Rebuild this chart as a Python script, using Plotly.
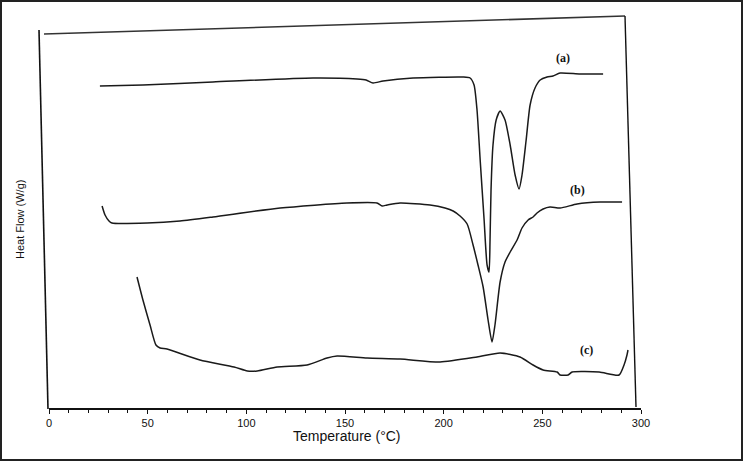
import plotly.graph_objects as go

# Temperature (°C) and relative heat flow (arbitrary units, endo down)
temp_a = [25.8, 47.6, 83.1, 133.8, 156.1, 160.7, 164.2, 169.3, 184.5, 209.8, 213.4, 215.4, 216.9,
          218.5, 220.5, 222.0, 223.0, 223.5, 224.0, 225.0, 226.6, 228.6, 231.1, 233.7, 236.2, 238.2,
          239.7, 241.8, 243.8, 246.3, 248.9, 252.4, 255.4, 259.0, 269.1, 280.8]
flow_a = [32.5, 32.6, 32.9, 33.3, 33.2, 33.1, 32.8, 33.0, 33.3, 33.4, 33.3, 32.6, 30.1,
          25.1, 19.1, 14.6, 13.9, 17.1, 22.1, 26.6, 29.1, 30.0, 29.1, 26.6, 23.6, 22.2,
          23.6, 27.1, 30.6, 32.3, 33.1, 33.4, 33.5, 33.8, 33.7, 33.7]

temp_b = [26.9, 28.4, 30.4, 31.9, 49.7, 66.4, 83.1, 117.1, 151.0, 166.2, 168.8, 171.3, 177.9,
          193.1, 200.7, 204.8, 208.3, 211.9, 214.9, 217.4, 220.0, 222.5, 224.5, 226.0, 228.6,
          231.1, 233.7, 237.2, 239.7, 242.8, 245.3, 247.3, 250.4, 253.9, 259.0, 267.6, 279.3, 290.4]
flow_b = [20.5, 19.6, 19.0, 18.8, 18.8, 19.0, 19.4, 20.3, 20.8, 20.8, 20.5, 20.6, 20.8,
          20.6, 20.3, 20.0, 19.5, 18.7, 16.6, 14.6, 12.4, 9.1, 6.9, 8.6, 12.9,
          14.9, 15.9, 17.1, 18.3, 19.1, 19.4, 19.8, 20.2, 20.4, 20.3, 20.7, 20.9, 20.9]

temp_c = [44.6, 47.6, 51.2, 54.2, 56.3, 59.8, 76.5, 93.8, 100.5, 105.5, 115.6, 130.8, 140.9, 146.0,
          161.2, 177.9, 198.2, 216.9, 228.6, 238.7, 245.3, 250.4, 257.5, 259.0, 263.1, 265.1,
          278.8, 288.9, 291.4, 292.9, 293.4]
flow_c = [13.4, 11.1, 8.6, 6.6, 6.3, 6.2, 5.1, 4.4, 4.0, 4.0, 4.4, 4.6, 5.3, 5.5,
          5.3, 5.2, 4.9, 5.4, 5.8, 5.4, 4.6, 4.1, 3.9, 3.6, 3.6, 3.9,
          3.9, 3.6, 4.6, 5.6, 6.1]

labels = ["(a)", "(b)", "(c)"]
label_temp = [260.5, 267.6, 272.2]
label_flow = [35.3, 22.1, 6.1]

x_ticks = [0, 50, 100, 150, 200, 250, 300]

# pixel helpers for decorative frame (paper coordinates)
L, R, T, B = 49, 641, 20, 408
def px(x):
    return (x - L) / (R - L)
def py(y):
    return (B - y) / (B - T)

fig = go.Figure()
line_style = dict(color="#1a1a1a", width=1.5, shape="spline", smoothing=0.6)
for tx, fy in [(temp_a, flow_a), (temp_b, flow_b), (temp_c, flow_c)]:
    fig.add_trace(go.Scatter(x=tx, y=fy, mode="lines", line=line_style,
                             showlegend=False, hoverinfo="skip"))

for lab, lx, ly in zip(labels, label_temp, label_flow):
    fig.add_annotation(x=lx, y=ly, text="<b>" + lab + "</b>", showarrow=False,
                       xanchor="center", yanchor="middle",
                       font=dict(family="Liberation Serif", size=12, color="#111"))

fig.add_annotation(x=px(347), y=py(436), xref="paper", yref="paper", text="Temperature (°C)",
                   xanchor="center", yanchor="middle", showarrow=False,
                   font=dict(family="Liberation Sans", size=14, color="#111"))
fig.add_annotation(x=px(20), y=py(220), xref="paper", yref="paper", text="Heat Flow (W/g)",
                   xanchor="center", yanchor="middle", textangle=-90, showarrow=False,
                   font=dict(family="Liberation Sans", size=11, color="#111"))

shapes = [
    # outer border of the scan
    dict(type="rect", xref="paper", yref="paper", x0=px(1), x1=px(742), y0=py(1), y1=py(460),
         line=dict(color="#222", width=2)),
    # slanted plot frame
    dict(type="line", xref="paper", yref="paper", x0=px(44), y0=py(34), x1=px(625), y1=py(16),
         line=dict(color="#333", width=1.6)),
    dict(type="line", xref="paper", yref="paper", x0=px(39), y0=py(30), x1=px(48), y1=py(409),
         line=dict(color="#111", width=1.6)),
    dict(type="line", xref="paper", yref="paper", x0=px(625), y0=py(16), x1=px(636), y1=py(407),
         line=dict(color="#111", width=1.4)),
]

fig.update_layout(
    width=744, height=462,
    margin=dict(l=L, r=744 - R, t=T, b=462 - B),
    paper_bgcolor="white", plot_bgcolor="white",
    shapes=shapes,
    xaxis=dict(range=[0, 300], tickvals=x_ticks, ticktext=[str(v) for v in x_ticks],
               showgrid=False, zeroline=False, showline=True, linecolor="#111", linewidth=1.5,
               ticks="outside", ticklen=4, tickcolor="#111",
               minor=dict(dtick=10, ticks="outside", ticklen=3, tickcolor="#111"),
               tickfont=dict(family="Liberation Sans", size=11, color="#111")),
    yaxis=dict(range=[0.3, 39.1], visible=False),
)

fig.write_html("out.html", config={"displayModeBar": False},
               post_script="document.body.style.margin='0';document.body.style.overflow='hidden';")
